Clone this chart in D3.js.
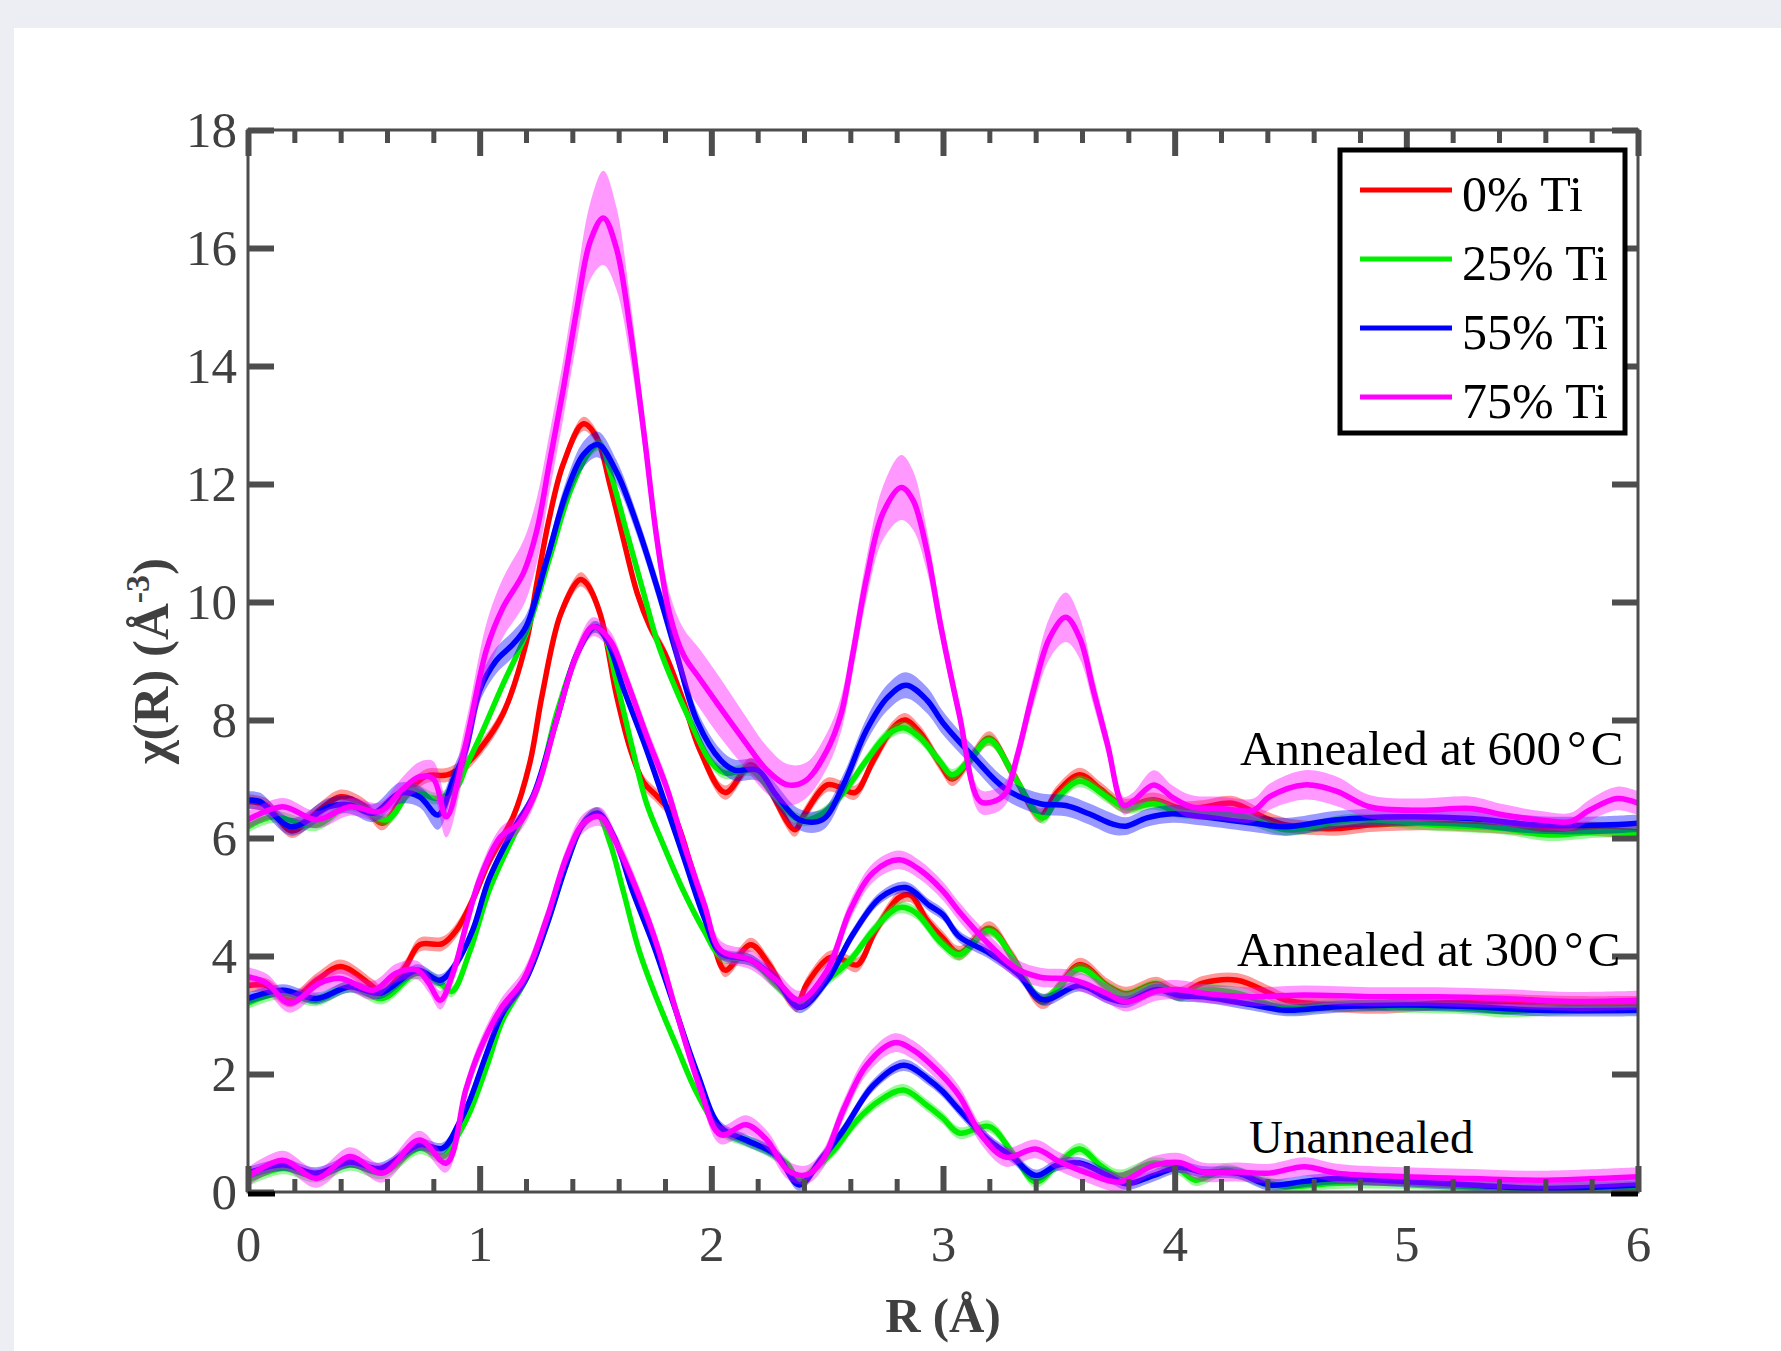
<!DOCTYPE html>
<html><head><meta charset="utf-8">
<script src="https://cdn.jsdelivr.net/npm/d3@7"></script>
<style>
html,body{margin:0;padding:0;background:#eceef3;}
svg{display:block;}
</style></head><body>
<svg id="chart" width="1781" height="1351"></svg>
<script>
// Fourier-transformed EXAFS magnitude, offset by annealing condition.
// Each point is [R (Å), χ(R) (Å^-3), optional band half-width].

const seriesLabels = ["0% Ti", "25% Ti", "55% Ti", "75% Ti"];
const seriesColors = ["#ff0000", "#00f000", "#0000ff", "#ff00ff"];
const groupLabels = ["Annealed at 600", "Annealed at 300", "Unannealed"];

// ---- Annealed at 600 °C ----
const a600_0 = [[0,6.62],[0.08,6.55],[0.19,6.12],[0.30,6.45],[0.40,6.70],[0.50,6.55],[0.58,6.25],[0.68,6.75],[0.77,7.05],[0.86,7.07],[0.94,7.25],[1.0,7.5],[1.10,8.1],[1.2,9.3],[1.246,10.3],[1.30,11.41],[1.36,12.33],[1.448,13.02],[1.505,12.79],[1.563,11.98],[1.62,11.07],[1.68,10.15],[1.736,9.58],[1.80,9.12],[1.88,8.31],[1.95,7.5],[2.06,6.77],[2.17,7.24],[2.24,6.9],[2.36,6.14],[2.40,6.39],[2.50,6.90],[2.555,6.86],[2.62,6.77],[2.70,7.32],[2.785,7.87],[2.836,8.0],[2.90,7.79],[2.99,7.24],[3.04,7.0],[3.12,7.35],[3.20,7.69],[3.30,7.10],[3.42,6.38],[3.49,6.76],[3.59,7.07],[3.68,6.83],[3.78,6.55],[3.91,6.65],[4.02,6.51],[4.12,6.52],[4.25,6.59],[4.38,6.36],[4.48,6.22],[4.70,6.16],[4.84,6.22],[5.13,6.25],[5.42,6.19],[5.57,6.14],[5.78,6.16],[6.0,6.1]];
const a600_25 = [[0,6.19],[0.108,6.36],[0.295,6.22],[0.44,6.56],[0.60,6.31],[0.71,6.81],[0.81,6.67],[0.90,6.85],[0.94,7.2],[1.0,7.7],[1.10,8.6],[1.2,9.46],[1.30,10.72],[1.39,11.87],[1.477,12.56],[1.52,12.67],[1.563,12.21],[1.635,11.18],[1.708,10.15],[1.765,9.35],[1.82,8.77],[1.91,7.97],[2.0,7.28],[2.06,7.1],[2.17,7.15],[2.27,6.73],[2.38,6.31],[2.47,6.39],[2.57,6.77],[2.67,7.32],[2.76,7.75],[2.83,7.87],[2.90,7.70],[2.99,7.28],[3.04,7.07],[3.12,7.35],[3.2,7.66],[3.32,6.96],[3.43,6.34],[3.50,6.7],[3.59,6.96],[3.71,6.69],[3.79,6.51],[3.91,6.58],[4.02,6.44],[4.12,6.42],[4.27,6.39],[4.48,6.14],[4.77,6.31],[5.13,6.22],[5.42,6.16],[5.61,6.05],[5.85,6.11],[6.0,6.08]];
const a600_55 = [[0,6.64,.15],[0.05,6.62,.15],[0.187,6.19,.15],[0.35,6.53,.15],[0.44,6.56,.15],[0.54,6.42,.15],[0.655,6.76,.18],[0.74,6.70,.18],[0.82,6.39,.25],[0.885,6.98,.2],[0.94,7.5,.2],[1.0,8.5,.2],[1.07,9.0,.22],[1.145,9.29,.22],[1.2,9.58,.2],[1.29,10.72,.18],[1.375,11.87,.2],[1.448,12.5,.22],[1.51,12.67,.22],[1.59,12.21,.2],[1.68,11.30,.18],[1.765,10.26,.18],[1.85,9.12,.18],[1.94,7.97,.18],[2.04,7.32,.18],[2.1,7.15,.18],[2.2,7.15,.18],[2.28,6.73,.18],[2.38,6.31,.18],[2.48,6.31,.18],[2.57,6.90,.18],[2.67,7.83,.2],[2.76,8.38,.22],[2.84,8.59,.22],[2.93,8.34,.22],[3.0,7.95,.2],[3.13,7.38,.18],[3.27,6.83,.18],[3.42,6.58,.18],[3.53,6.55,.18],[3.63,6.41,.18],[3.73,6.24,.18],[3.79,6.20,.15],[3.88,6.34,.15],[3.99,6.41,.15],[4.12,6.36,.15],[4.34,6.25,.15],[4.48,6.19,.15],[4.70,6.31,.15],[4.99,6.36,.15],[5.28,6.33,.15],[5.57,6.22,.15],[5.85,6.22,.15],[6.0,6.25,.15]];
const a600_75 = [[0,6.31,.15],[0.15,6.53,.15],[0.295,6.31,.15],[0.44,6.53,.15],[0.57,6.45,.15],[0.66,6.8,.2],[0.74,7.04,.25],[0.80,7.0,.3],[0.856,6.36,.35],[0.94,7.6,.35],[1.03,9.2,.45],[1.10,9.9,.5],[1.19,10.5,.55],[1.246,11.2,.55],[1.30,12.33,.5],[1.36,13.59,.5],[1.42,14.97,.55],[1.477,16.11,.65],[1.534,16.51,.8],[1.59,16.0,.7],[1.65,14.62,.5],[1.708,12.90,.35],[1.765,11.07,.3],[1.82,9.8,.35],[1.88,9.1,.45],[1.95,8.7,.5],[2.04,8.2,.5],[2.14,7.66,.45],[2.24,7.15,.4],[2.33,6.90,.35],[2.41,6.98,.3],[2.50,7.49,.3],[2.56,8.1,.3],[2.61,9.1,.3],[2.67,10.4,.35],[2.74,11.5,.45],[2.82,11.94,.55],[2.87,11.73,.5],[2.93,10.88,.35],[2.99,9.6,.25],[3.07,8.1,.2],[3.16,6.62,.2],[3.22,6.62,.2],[3.27,6.76,.2],[3.32,7.38,.2],[3.39,8.49,.25],[3.46,9.39,.35],[3.53,9.74,.42],[3.59,9.39,.35],[3.65,8.49,.25],[3.71,7.59,.2],[3.78,6.55,.15],[3.82,6.62,.15],[3.91,6.9,.25],[3.99,6.69,.2],[4.07,6.53,.2],[4.20,6.50,.2],[4.34,6.47,.2],[4.41,6.70,.22],[4.56,6.90,.25],[4.70,6.79,.25],[4.84,6.53,.2],[5.06,6.47,.2],[5.28,6.50,.2],[5.42,6.39,.18],[5.57,6.31,.15],[5.71,6.28,.15],[5.79,6.47,.18],[5.91,6.67,.2],[6.0,6.59,.2]];

// ---- Annealed at 300 °C ----
const a300_0 = [[0,3.5],[0.08,3.5],[0.18,3.25],[0.30,3.6],[0.40,3.82],[0.54,3.48],[0.58,3.37],[0.68,3.82],[0.74,4.19],[0.84,4.21],[0.90,4.44],[0.97,4.95],[1.04,5.6],[1.145,6.36],[1.217,7.28],[1.27,8.43],[1.35,9.80],[1.433,10.38],[1.46,10.32],[1.52,9.80],[1.59,8.43],[1.65,7.51],[1.708,6.94],[1.765,6.71],[1.84,6.36],[1.91,5.56],[1.97,4.76],[2.01,4.2],[2.06,3.76],[2.17,4.19],[2.25,3.85],[2.34,3.25],[2.37,3.17],[2.41,3.51],[2.51,3.97],[2.57,3.93],[2.63,3.85],[2.71,4.44],[2.81,4.99],[2.86,5.03],[2.93,4.61],[3.0,4.3],[3.07,4.05],[3.2,4.47],[3.30,3.98],[3.43,3.22],[3.59,3.85],[3.71,3.50],[3.79,3.36],[3.92,3.53],[4.02,3.36],[4.12,3.54],[4.27,3.59],[4.41,3.37],[4.48,3.25],[4.70,3.17],[4.88,3.14],[5.13,3.20],[5.42,3.23],[5.71,3.20],[6.0,3.20]];
const a300_25 = [[0,3.20],[0.14,3.37],[0.295,3.25],[0.44,3.48],[0.58,3.28],[0.73,3.71],[0.83,3.54],[0.88,3.40],[0.957,4.07],[1.04,5.10],[1.145,6.02],[1.246,6.82],[1.33,8.08],[1.42,9.12],[1.49,9.58],[1.534,9.46],[1.59,8.66],[1.66,7.51],[1.72,6.59],[1.79,5.91],[1.88,5.10],[1.97,4.42],[2.04,4.0],[2.17,3.93],[2.28,3.51],[2.38,3.21],[2.50,3.59],[2.60,3.93],[2.70,4.44],[2.81,4.82],[2.88,4.74],[2.99,4.23],[3.07,4.02],[3.2,4.43],[3.32,3.85],[3.43,3.26],[3.59,3.78],[3.71,3.47],[3.79,3.33],[3.92,3.50],[4.02,3.33],[4.12,3.42],[4.27,3.37],[4.48,3.11],[4.70,3.17],[4.99,3.14],[5.28,3.11],[5.42,3.06],[5.71,3.11],[6.0,3.11]];
const a300_55 = [[0,3.28],[0.15,3.42],[0.295,3.28],[0.44,3.48],[0.57,3.37],[0.73,3.76],[0.83,3.59],[0.90,3.88],[0.97,4.44],[1.04,5.3],[1.145,6.14],[1.23,6.71],[1.33,7.97],[1.42,9.12],[1.50,9.58],[1.55,9.35],[1.62,8.54],[1.708,7.63],[1.79,6.71],[1.88,5.68],[1.97,4.64],[2.04,4.05],[2.17,3.93],[2.28,3.59],[2.38,3.13],[2.50,3.59],[2.61,4.36],[2.73,4.99],[2.84,5.16],[2.94,4.86],[3.0,4.7],[3.07,4.33],[3.2,4.05],[3.32,3.71],[3.43,3.26],[3.59,3.50],[3.71,3.29],[3.79,3.22],[3.92,3.43],[4.02,3.33],[4.12,3.31],[4.34,3.17],[4.48,3.08],[4.70,3.14],[4.99,3.17],[5.28,3.14],[5.57,3.08],[6.0,3.08]];
const a300_75 = [[0,3.65],[0.08,3.54],[0.18,3.20],[0.31,3.54],[0.40,3.62],[0.54,3.42],[0.64,3.71],[0.73,3.76],[0.78,3.54],[0.83,3.25],[0.885,3.71],[0.94,4.50],[1.0,5.3],[1.09,6.02],[1.17,6.25],[1.246,6.82],[1.33,7.97],[1.42,9.12],[1.49,9.58],[1.563,9.35],[1.635,8.66],[1.72,7.74],[1.81,6.82],[1.88,5.91],[1.97,4.87],[2.04,4.1],[2.17,3.93],[2.28,3.59],[2.38,3.25],[2.50,3.76],[2.60,4.78],[2.70,5.42],[2.81,5.63],[2.90,5.46],[3.0,5.1],[3.07,4.75],[3.2,4.19],[3.32,3.78],[3.42,3.64],[3.56,3.60],[3.71,3.36],[3.79,3.22],[3.92,3.40],[4.02,3.43],[4.12,3.37],[4.34,3.31],[4.56,3.34],[4.84,3.31],[5.13,3.31],[5.42,3.28],[5.71,3.23],[6.0,3.25]];

// ---- Unannealed (no 0% Ti sample) ----
const un_25 = [[0,0.20],[0.15,0.40],[0.295,0.26],[0.44,0.46],[0.58,0.32],[0.74,0.74],[0.84,0.60],[0.91,0.99],[0.957,1.35],[1.03,2.12],[1.10,2.92],[1.2,3.61],[1.29,4.53],[1.375,5.56],[1.448,6.25],[1.505,6.42],[1.563,5.91],[1.62,5.10],[1.69,4.07],[1.765,3.27],[1.85,2.47],[1.94,1.66],[2.04,1.05],[2.14,0.88],[2.24,0.71],[2.33,0.46],[2.38,0.20],[2.44,0.37],[2.53,0.71],[2.63,1.22],[2.73,1.56],[2.83,1.73],[2.93,1.47],[3.0,1.25],[3.07,1.00],[3.2,1.11],[3.30,0.66],[3.40,0.17],[3.49,0.45],[3.59,0.73],[3.68,0.45],[3.76,0.28],[3.91,0.49],[4.02,0.38],[4.09,0.20],[4.22,0.37],[4.38,0.18],[4.48,0.09],[4.70,0.15],[4.99,0.15],[5.28,0.09],[5.57,0.06],[6.0,0.09]];
const un_55 = [[0,0.32],[0.15,0.46],[0.295,0.32],[0.44,0.51],[0.57,0.40],[0.74,0.80],[0.84,0.74],[0.91,1.16],[0.957,1.55],[1.03,2.35],[1.10,3.04],[1.2,3.61],[1.29,4.53],[1.375,5.56],[1.448,6.25],[1.51,6.42],[1.58,6.02],[1.66,5.10],[1.75,4.19],[1.84,3.15],[1.94,2.01],[2.04,1.10],[2.15,0.88],[2.28,0.63],[2.38,0.12],[2.47,0.54],[2.57,1.05],[2.70,1.81],[2.83,2.15],[2.94,1.90],[3.0,1.70],[3.07,1.39],[3.2,0.87],[3.30,0.59],[3.40,0.28],[3.49,0.45],[3.59,0.49],[3.71,0.28],[3.79,0.14],[3.91,0.28],[4.02,0.42],[4.12,0.34],[4.27,0.32],[4.41,0.12],[4.56,0.18],[4.70,0.23],[4.99,0.18],[5.28,0.12],[5.57,0.06],[6.0,0.12]];
const un_75 = [[0,0.26],[0.15,0.54],[0.295,0.23],[0.44,0.60],[0.58,0.32],[0.74,0.88],[0.856,0.49],[0.94,1.73],[1.0,2.4],[1.09,3.1],[1.19,3.61],[1.29,4.64],[1.375,5.68],[1.448,6.25],[1.52,6.36],[1.59,5.91],[1.68,5.10],[1.765,4.19],[1.85,3.04],[1.95,1.78],[2.04,0.97],[2.15,1.14],[2.24,0.88],[2.33,0.37],[2.41,0.29],[2.48,0.54],[2.57,1.39],[2.67,2.15],[2.79,2.53],[2.87,2.41],[2.99,2.0],[3.07,1.63],[3.17,0.94],[3.27,0.59],[3.40,0.73],[3.50,0.52],[3.63,0.31],[3.76,0.17],[3.91,0.45],[4.02,0.50],[4.12,0.34],[4.27,0.34],[4.41,0.32],[4.56,0.43],[4.70,0.32],[4.99,0.26],[5.28,0.23],[5.57,0.20],[6.0,0.26]];

// Default band half-width per curve (used where a point carries none)
const curves = [
  {pts: un_25,   s: 1, band: 0.10},
  {pts: un_55,   s: 2, band: 0.10},
  {pts: un_75,   s: 3, band: 0.16},
  {pts: a300_0,  s: 0, band: 0.12},
  {pts: a300_25, s: 1, band: 0.10},
  {pts: a300_55, s: 2, band: 0.10},
  {pts: a300_75, s: 3, band: 0.16},
  {pts: a600_0,  s: 0, band: 0.12},
  {pts: a600_25, s: 1, band: 0.10},
  {pts: a600_55, s: 2, band: 0.15},
  {pts: a600_75, s: 3, band: 0.20}
];

const xTicks = [0, 1, 2, 3, 4, 5, 6];
const yTicks = [0, 2, 4, 6, 8, 10, 12, 14, 16, 18];

const W = 1781, H = 1351;
const svg = d3.select("#chart");
const x = d3.scaleLinear().domain([0, 6]).range([248, 1638]);
const y = d3.scaleLinear().domain([0, 18]).range([1192, 130]);
const axisColor = "#4d4d4d";
const serif = "'Liberation Serif','Times New Roman',serif";

// page panel
svg.append("rect").attr("x", 0).attr("y", 0).attr("width", W).attr("height", H).attr("fill", "#eceef3");
svg.append("rect").attr("x", 14).attr("y", 28).attr("width", W - 14).attr("height", H - 28).attr("fill", "#ffffff");

svg.append("clipPath").attr("id", "plotClip").append("rect")
  .attr("x", x(0)).attr("y", y(18)).attr("width", x(6) - x(0)).attr("height", y(0) - y(18));

const plot = svg.append("g").attr("clip-path", "url(#plotClip)");
const curve = d3.curveCatmullRom.alpha(0.5);

curves.forEach(c => {
  const col = seriesColors[c.s];
  const hw = d => (d.length > 2 ? d[2] : c.band);
  plot.append("path").datum(c.pts)
    .attr("d", d3.area().curve(curve).x(d => x(d[0])).y0(d => y(d[1] - hw(d))).y1(d => y(d[1] + hw(d))))
    .attr("fill", col).attr("fill-opacity", 0.4).attr("stroke", "none");
  plot.append("path").datum(c.pts)
    .attr("d", d3.line().curve(curve).x(d => x(d[0])).y(d => y(d[1])))
    .attr("fill", "none").attr("stroke", col).attr("stroke-width", 5.5)
    .attr("stroke-linejoin", "round");
});

// axes box
svg.append("rect").attr("x", x(0)).attr("y", y(18)).attr("width", x(6) - x(0)).attr("height", y(0) - y(18))
  .attr("fill", "none").attr("stroke", axisColor).attr("stroke-width", 3);

const minorX = d3.range(1, 30).map(i => i / 5).filter(v => Math.abs(v - Math.round(v)) > 1e-6);

function styleAxis(g, w) {
  g.select(".domain").remove();
  g.selectAll(".tick line").attr("stroke", axisColor).attr("stroke-width", w);
  g.selectAll(".tick text").attr("font-family", serif).attr("font-size", 51).attr("fill", "#404040");
}

svg.append("g").attr("transform", `translate(0,${y(0)})`)
  .call(d3.axisBottom(x).tickValues(xTicks).tickSizeInner(-26).tickSizeOuter(0).tickPadding(33).tickFormat(d3.format("d")))
  .call(g => styleAxis(g, 6));
svg.append("g").attr("transform", `translate(0,${y(0)})`)
  .call(d3.axisBottom(x).tickValues(minorX).tickSizeInner(-13).tickSizeOuter(0).tickFormat(""))
  .call(g => styleAxis(g, 5));
svg.append("g").attr("transform", `translate(0,${y(18)})`)
  .call(d3.axisTop(x).tickValues(xTicks).tickSizeInner(-26).tickSizeOuter(0).tickFormat(""))
  .call(g => styleAxis(g, 6));
svg.append("g").attr("transform", `translate(0,${y(18)})`)
  .call(d3.axisTop(x).tickValues(minorX).tickSizeInner(-13).tickSizeOuter(0).tickFormat(""))
  .call(g => styleAxis(g, 5));
svg.append("g").attr("transform", `translate(${x(0)},0)`)
  .call(d3.axisLeft(y).tickValues(yTicks).tickSizeInner(-26).tickSizeOuter(0).tickPadding(11).tickFormat(d3.format("d")))
  .call(g => styleAxis(g, 6));
svg.append("g").attr("transform", `translate(${x(6)},0)`)
  .call(d3.axisRight(y).tickValues(yTicks).tickSizeInner(-26).tickSizeOuter(0).tickFormat(""))
  .call(g => styleAxis(g, 6));

// dark end marks along the baseline
[[x(0), x(0) + 27], [x(6) - 27, x(6)]].forEach(([a, b]) => {
  svg.append("line").attr("x1", a).attr("x2", b).attr("y1", y(0) + 2).attr("y2", y(0) + 2)
    .attr("stroke", "#000").attr("stroke-width", 5);
});

// axis titles
svg.append("text").attr("x", (x(0) + x(6)) / 2).attr("y", 1332).attr("text-anchor", "middle")
  .attr("font-family", serif).attr("font-size", 49).attr("font-weight", "bold").attr("fill", "#404040")
  .text("R (Å)");
const yl = svg.append("text").attr("transform", `translate(168,${(y(0) + y(18)) / 2}) rotate(-90)`)
  .attr("text-anchor", "middle").attr("font-family", serif).attr("font-size", 51)
  .attr("font-weight", "bold").attr("fill", "#404040");
yl.append("tspan").text("χ(R) (Å");
yl.append("tspan").attr("dy", -19).attr("font-size", 34).text("-3");
yl.append("tspan").attr("dy", 19).text(")");

// group annotations
const ann = [
  {t: groupLabels[0], deg: true, x: 1240, y: 765, fs: 49},
  {t: groupLabels[1], deg: true, x: 1237, y: 966, fs: 49},
  {t: groupLabels[2], deg: false, x: 1249, y: 1153, fs: 47}
];
ann.forEach(a => {
  const t = svg.append("text").attr("x", a.x).attr("y", a.y).attr("font-family", serif)
    .attr("font-size", a.fs).attr("fill", "#000");
  t.append("tspan").text(a.t);
  if (a.deg) {
    t.append("tspan").attr("dx", 6).text("°");
    t.append("tspan").attr("dx", 4).text("C");
  }
});

// legend
const lg = svg.append("g");
lg.append("rect").attr("x", 1340).attr("y", 150).attr("width", 285).attr("height", 283)
  .attr("fill", "#fff").attr("stroke", "#000").attr("stroke-width", 5);
const legendY = [190, 259, 328, 397];
seriesLabels.forEach((lab, i) => {
  lg.append("line").attr("x1", 1360).attr("x2", 1452).attr("y1", legendY[i]).attr("y2", legendY[i])
    .attr("stroke", seriesColors[i]).attr("stroke-width", 5);
  lg.append("text").attr("x", 1462).attr("y", legendY[i] + 21).attr("font-family", serif)
    .attr("font-size", 50).attr("fill", "#000").text(lab);
});
</script>
</body></html>
